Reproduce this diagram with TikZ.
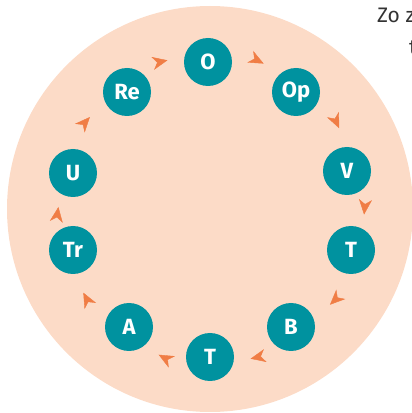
\documentclass[tikz,border=0pt]{standalone}
\usepackage{fontspec}
\setmainfont{Fira Sans}
\usetikzlibrary{arrows.meta,decorations.markings}
\definecolor{peach}{HTML}{FCDBC7}
\definecolor{teal}{HTML}{00929F}
\definecolor{arrowc}{HTML}{F07D45}
\definecolor{txtgray}{HTML}{333333}
\tikzset{
  stage/.style={circle, fill=teal, minimum size=48pt, inner sep=0pt, text=white, font=\fontsize{22}{22}\selectfont\bfseries},
  flow/.style={postaction={decorate}, decoration={markings, mark=at position 0.63 with {\arrow[arrowc]{Stealth[length=15pt,width=13pt,inset=4.5pt]}}}},
  side/.style={text=txtgray, font=\fontsize{21}{21}\selectfont, inner sep=0pt, anchor=base west}
}
\begin{document}
\begin{tikzpicture}[x=1pt,y=1pt]
\useasboundingbox (0,0) rectangle (412,413);
\fill[peach] (210,204) circle[radius=203];
\node[stage] (O)  at (208,351) {O};
\node[stage] (Op) at (296,321) {Op};
\node[stage] (V)  at (347,242) {V};
\node[stage] (T1) at (351,163) {T};
\node[stage] (B)  at (291,86)  {B};
\node[stage] (T2) at (210,56)  {T};
\node[stage] (A)  at (129,86)  {A};
\node[stage] (Tr) at (73,163)  {Tr};
\node[stage] (U)  at (73,240)  {U};
\node[stage] (Re) at (127,321) {Re};
\path[flow] (O) to[bend left=26] (Op);
\path[flow] (Op) to[bend left=26] (V);
\path[flow] (V) to[bend left=26] (T1);
\path[flow] (T1) to[bend left=26] (B);
\path[flow] (B) to[bend left=26] (T2);
\path[flow] (T2) to[bend left=26] (A);
\path[flow] (A) to[bend left=26] (Tr);
\path[flow] (Tr) to[bend left=26] (U);
\path[flow] (U) to[bend left=26] (Re);
\path[flow] (Re) to[bend left=26] (O);
\node[side] (zo) at (377,390) {Zo z};
\node[side] (tt) at (409,358) {t};
\end{tikzpicture}
\end{document}
